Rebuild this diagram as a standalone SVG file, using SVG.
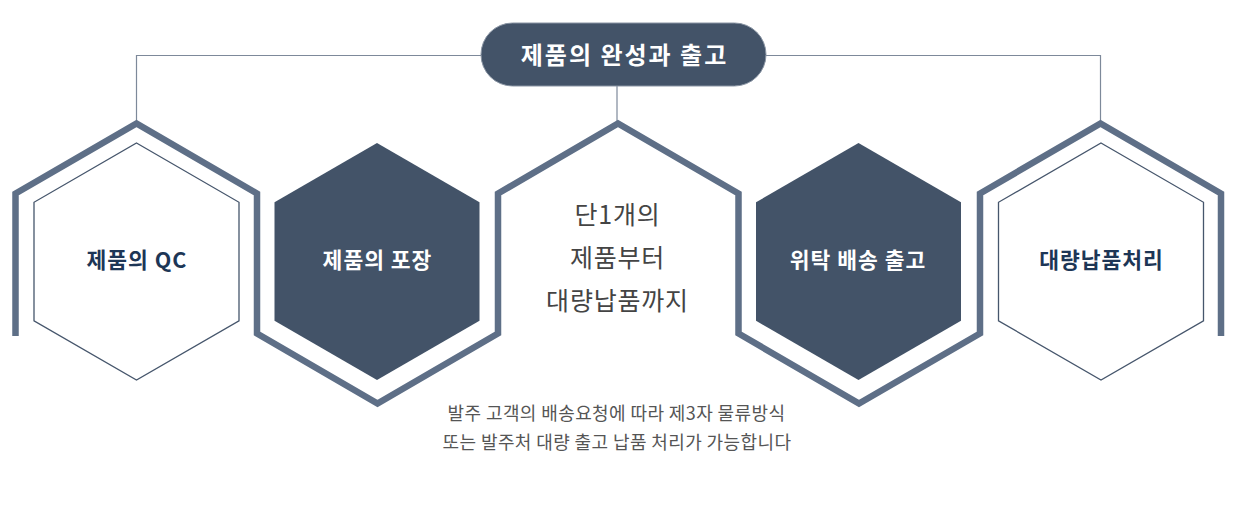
<svg xmlns="http://www.w3.org/2000/svg" width="1240" height="507" viewBox="0 0 1240 507">
<style>
.frame{fill:none;stroke:#5e6f87;stroke-width:6.5;stroke-linejoin:miter}
.conn{fill:none;stroke:#7d899a;stroke-width:1.2}
.hexo{fill:#fff;stroke:#46566c;stroke-width:1.3}
.hexd{fill:#435368;stroke:none}
.lbl{font-family:"Noto Sans CJK KR","Noto Sans",sans-serif;font-weight:700;font-size:21.5px;letter-spacing:1px;text-anchor:middle}
.navy{fill:#1d3656}
.white{fill:#fff}
.mid{font-family:"Noto Sans CJK KR","Noto Sans",sans-serif;font-size:25px;letter-spacing:0.8px;fill:#444;text-anchor:middle}
.note{font-family:"Noto Sans CJK KR","Noto Sans",sans-serif;font-size:18px;letter-spacing:0.4px;fill:#555;text-anchor:middle}
</style>
<rect width="1240" height="507" fill="#fff"/>
<g id="connectors">
<path class="conn" d="M481,55.5 H136.5 V123"/>
<path class="conn" d="M766,55.5 H1100.5 V123"/>
<path class="conn" d="M617,86 V123"/>
<polyline class="frame" points="15.5,336 15.5,193.5 136.5,123.5 257,193.5 257,333.5 377.5,403.5 498,333.5 498,193.5 618,123.5 738.5,193.5 738.5,333.5 859,403.5 980,333.5 980,193.5 1100.5,123.5 1221,193.5 1221,336"/>
</g>
<g id="title">
<rect x="481" y="23" width="285" height="63" rx="31.5" fill="#435368" stroke="#8994a3" stroke-width="1"/>
<text x="624.5" y="63.5" font-family="'Noto Sans CJK KR','Noto Sans',sans-serif" font-weight="700" font-size="24" letter-spacing="2" fill="#fff" text-anchor="middle">제품의 완성과 출고</text>
</g>
<g id="node-qc">
<polygon class="hexo" points="136.5,143 239,202.3 239,320.8 136.5,380 34,320.8 34,202.3"/>
<text class="lbl navy" x="137" y="268">제품의 QC</text>
</g>
<g id="node-pack">
<polygon class="hexd" points="377,143 479.5,202.3 479.5,320.8 377,380 274.5,320.8 274.5,202.3"/>
<text class="lbl white" x="377.5" y="268">제품의 포장</text>
</g>
<g id="node-center">
<text class="mid" x="617.5" y="224">단1개의</text>
<text class="mid" x="617.5" y="267">제품부터</text>
<text class="mid" x="617.5" y="310">대량납품까지</text>
</g>
<g id="node-ship">
<polygon class="hexd" points="858.5,143 961,202.3 961,320.8 858.5,380 756,320.8 756,202.3"/>
<text class="lbl white" x="858" y="268">위탁 배송 출고</text>
</g>
<g id="node-bulk">
<polygon class="hexo" points="1101,143 1203.5,202.3 1203.5,320.8 1101,380 998.5,320.8 998.5,202.3"/>
<text class="lbl navy" x="1101.5" y="268">대량납품처리</text>
</g>
<g id="note">
<text class="note" x="616.5" y="420">발주 고객의 배송요청에 따라 제3자 물류방식</text>
<text class="note" x="617" y="449">또는 발주처 대량 출고 납품 처리가 가능합니다</text>
</g>
</svg>
